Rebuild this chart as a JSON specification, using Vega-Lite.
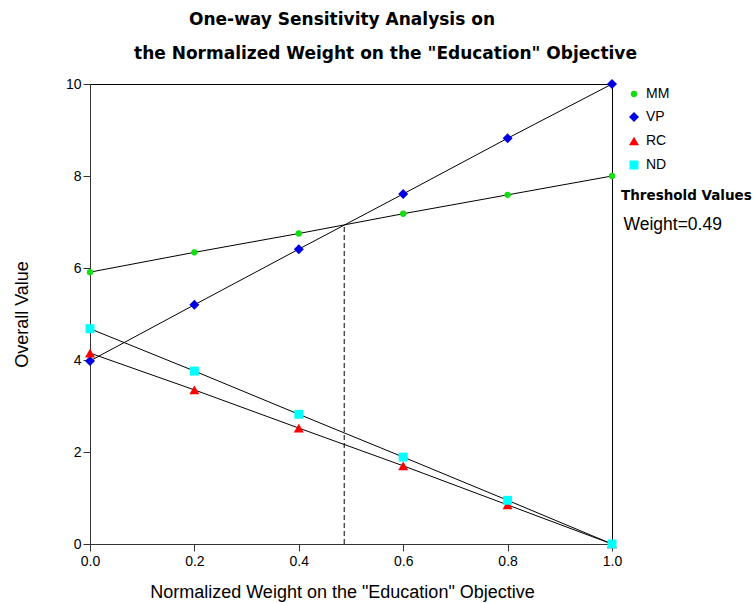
{
  "$schema": "https://vega.github.io/schema/vega-lite/v6.json",
  "autosize": "none",
  "width": 522,
  "height": 460,
  "padding": {"left": 90, "top": 84, "right": 143, "bottom": 59},
  "background": "white",
  "title": {
    "text": "One-way Sensitivity Analysis on",
    "font": "DejaVu Sans",
    "fontSize": 17,
    "fontWeight": "bold",
    "color": "black",
    "anchor": "middle",
    "dx": -9,
    "offset": 15
  },
  "config": {
    "view": {"stroke": "black", "strokeWidth": 1},
    "axis": {
      "labelFont": "Liberation Sans",
      "titleFont": "Liberation Sans",
      "labelColor": "black",
      "titleColor": "black",
      "labelFontSize": 14,
      "titleFontSize": 18,
      "titleFontWeight": "normal",
      "domainColor": "#333333",
      "tickColor": "#333333",
      "tickSize": 7,
      "grid": false
    },
    "legend": {
      "labelFont": "Liberation Sans",
      "titleFont": "DejaVu Sans",
      "labelColor": "black",
      "titleColor": "black",
      "padding": 0
    }
  },
  "datasets": {
    "pts": [
      {"series": "MM", "w": 0.0, "v": 5.91},
      {"series": "MM", "w": 0.2, "v": 6.34},
      {"series": "MM", "w": 0.4, "v": 6.75},
      {"series": "MM", "w": 0.6, "v": 7.18},
      {"series": "MM", "w": 0.8, "v": 7.59},
      {"series": "MM", "w": 1.0, "v": 8.0},
      {"series": "VP", "w": 0.0, "v": 3.98},
      {"series": "VP", "w": 0.2, "v": 5.2},
      {"series": "VP", "w": 0.4, "v": 6.41},
      {"series": "VP", "w": 0.6, "v": 7.61},
      {"series": "VP", "w": 0.8, "v": 8.82},
      {"series": "VP", "w": 1.0, "v": 10.0},
      {"series": "RC", "w": 0.0, "v": 4.15},
      {"series": "RC", "w": 0.2, "v": 3.35},
      {"series": "RC", "w": 0.4, "v": 2.52},
      {"series": "RC", "w": 0.6, "v": 1.7},
      {"series": "RC", "w": 0.8, "v": 0.85},
      {"series": "RC", "w": 1.0, "v": 0.0},
      {"series": "ND", "w": 0.0, "v": 4.68},
      {"series": "ND", "w": 0.2, "v": 3.76},
      {"series": "ND", "w": 0.4, "v": 2.82},
      {"series": "ND", "w": 0.6, "v": 1.89},
      {"series": "ND", "w": 0.8, "v": 0.95},
      {"series": "ND", "w": 1.0, "v": 0.0}
    ],
    "threshold": [
      {"label": "Weight=0.49", "w": 0.487, "v0": 0, "v1": 6.92}
    ]
  },
  "resolve": {"axis": {"x": "independent"}},
  "layer": [
    {
      "data": {"name": "pts"},
      "mark": {"type": "line", "color": "black", "strokeWidth": 1},
      "encoding": {
        "x": {"field": "w", "type": "quantitative", "scale": {"domain": [0, 1], "nice": false},
          "axis": {"title": "Normalized Weight on the \"Education\" Objective", "values": [0, 0.2, 0.4, 0.6, 0.8, 1.0], "format": ".1f", "labelPadding": 3, "labelFlush": false, "titlePadding": 15, "titleX": 252}},
        "y": {"field": "v", "type": "quantitative", "scale": {"domain": [0, 10], "nice": false},
          "axis": {"title": "Overall Value", "values": [0, 2, 4, 6, 8, 10], "labelPadding": 2, "titlePadding": 34}},
        "detail": {"field": "series"}
      }
    },
    {
      "data": {"name": "threshold"},
      "mark": {"type": "rule", "color": "black", "strokeWidth": 1},
      "encoding": {
        "x": {"field": "w", "type": "quantitative",
          "axis": {"orient": "top", "title": "the Normalized Weight on the \"Education\" Objective",
            "labels": false, "ticks": false, "domain": false, "titleFont": "DejaVu Sans", "titleFontWeight": "bold", "titleFontSize": 17,
            "titlePadding": 22, "titleX": 295}},
        "y": {"field": "v0", "type": "quantitative"},
        "y2": {"field": "v1"},
        "strokeDash": {"field": "label", "type": "nominal",
          "scale": {"range": [[5, 3]]},
          "legend": {"title": "Threshold Values", "orient": "none", "legendX": 531, "legendY": 105,
            "titleFontSize": 13.5, "titleFontWeight": "bold", "titlePadding": 14,
            "labelFontSize": 17.5, "symbolSize": 0, "symbolOpacity": 0, "symbolStrokeWidth": 0, "labelOffset": -15}}
      }
    },
    {
      "data": {"name": "pts"},
      "mark": {"type": "point", "filled": true, "opacity": 1},
      "encoding": {
        "x": {"field": "w", "type": "quantitative", "axis": null},
        "y": {"field": "v", "type": "quantitative"},
        "color": {"field": "series", "type": "nominal",
          "scale": {"domain": ["MM", "VP", "RC", "ND"], "range": ["#11dd11", "#0000e0", "#ff0000", "#00ffff"]},
          "legend": {"title": null, "orient": "none", "legendX": 537, "legendY": 3,
            "labelFontSize": 14, "labelOffset": 5, "rowPadding": 8, "symbolOpacity": 1}},
        "shape": {"field": "series", "type": "nominal",
          "scale": {"domain": ["MM", "VP", "RC", "ND"], "range": ["circle", "diamond", "triangle-up", "square"]},
          "legend": {"title": null, "orient": "none", "legendX": 537, "legendY": 3,
            "labelFontSize": 14, "labelOffset": 5, "rowPadding": 8, "symbolOpacity": 1}},
        "size": {"field": "series", "type": "nominal",
          "scale": {"type": "ordinal", "domain": ["MM", "VP", "RC", "ND"], "range": [40, 100, 100, 80]},
          "legend": {"title": null, "orient": "none", "legendX": 537, "legendY": 3,
            "labelFontSize": 14, "labelOffset": 5, "rowPadding": 8, "symbolOpacity": 1}}
      }
    }
  ]
}
